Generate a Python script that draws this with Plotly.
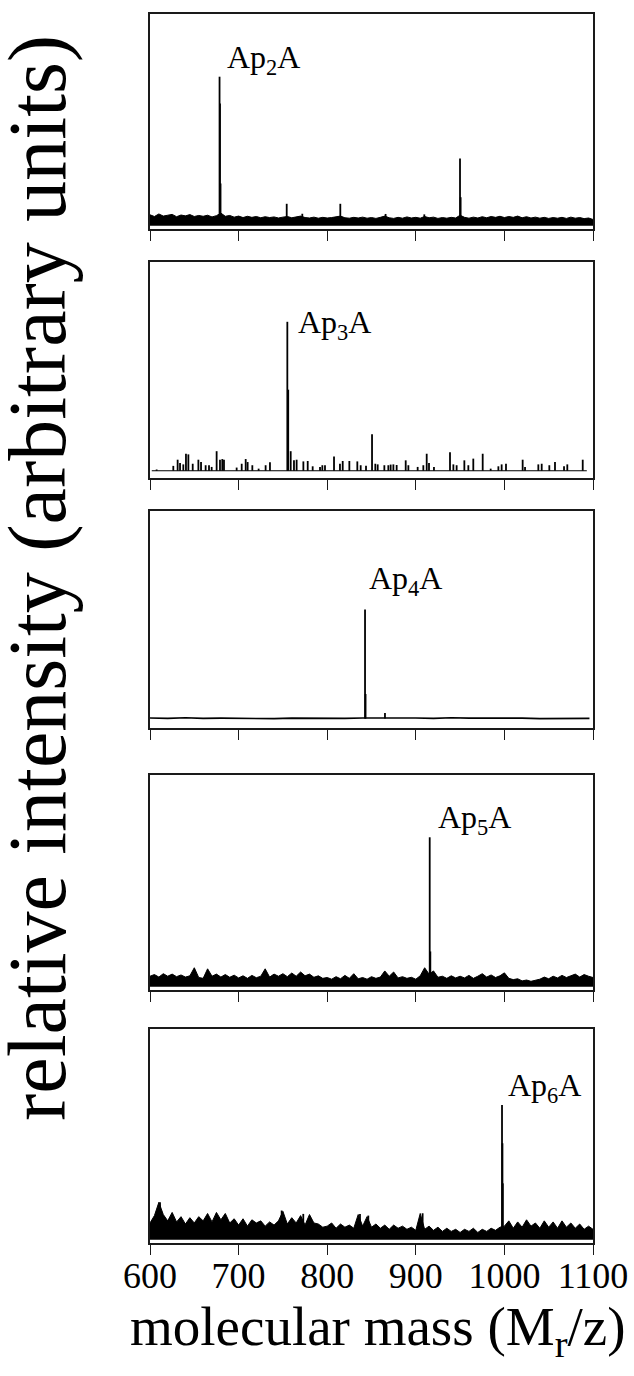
import plotly.graph_objects as go

W, H = 634, 1376
FONT = "Liberation Serif"

# ---- axis ----
mass_range = [600, 1100]
tick_vals = [600, 700, 800, 900, 1000, 1100]
tick_text = ["600", "700", "800", "900", "1000", "1100"]

# ---- noise level (upper edge of the baseline band), every 5 Da from 600 to 1100 ----
noise_mass = list(range(600, 1101, 5))

noise_ap2a = [
    5.2, 4.4, 5.6, 4.6, 5.0, 5.4, 4.3, 5.1, 4.7, 5.3,
    4.4, 4.9, 4.5, 5.0, 4.2, 4.8, 6.0, 4.5, 4.9, 4.1,
    4.6, 3.9, 4.5, 4.0, 4.4, 3.8, 4.3, 3.9, 4.2, 3.7,
    4.1, 4.4, 3.8, 4.2, 4.6, 3.9, 3.7, 4.1, 3.6, 4.0,
    3.7, 3.9, 4.2, 4.6, 3.8, 3.6, 4.0, 3.7, 4.1, 3.6,
    3.9, 3.5, 4.0, 4.6, 3.8, 3.5, 4.0, 3.6, 4.2, 3.7,
    4.0, 3.6, 4.4, 3.8, 4.1, 3.5, 3.9, 3.6, 4.0, 3.7,
    5.0, 4.0, 3.6, 4.1, 3.7, 4.3, 3.8, 4.4, 4.0, 4.5,
    3.9, 4.4, 4.0, 4.6, 3.8, 4.3, 3.7, 4.1, 3.6, 4.0,
    3.5, 3.9, 3.6, 4.0, 3.5, 4.1, 3.6, 3.9, 3.4, 3.7,
    3.0,
]

noise_ap5a = [
    5.0, 5.8, 4.6, 6.2, 5.0, 6.0, 4.8, 5.6, 4.6, 5.2,
    9.0, 4.4, 4.0, 8.5, 5.0, 6.0, 4.6, 5.8, 4.5, 5.5,
    4.2, 5.2, 4.0, 5.4, 4.3, 5.0, 8.5, 4.6, 6.0, 5.0,
    6.2, 4.8, 6.5, 5.0, 7.0, 5.2, 6.0, 4.5, 5.2, 4.0,
    4.4, 3.6, 4.8, 3.8, 5.4, 4.0, 6.2, 3.8, 4.4, 3.6,
    4.8, 4.0, 4.6, 7.5, 5.0, 7.0, 4.2, 4.8, 4.0, 4.5,
    3.6, 5.2, 9.0, 6.0, 7.5, 4.5, 5.0, 4.0, 5.2, 4.2,
    5.0, 4.2, 5.4, 4.0, 5.0, 6.2, 4.6, 5.6, 4.4, 5.2,
    6.6, 4.0, 3.4, 3.8, 2.8, 3.2, 2.6, 3.0, 3.6, 4.6,
    3.8, 5.0, 4.2, 5.4, 4.4, 5.2, 6.0, 4.6, 5.8, 5.0,
    4.4,
]

noise_ap6a = [
    8.0, 11.5, 17.8, 12.0, 9.0, 13.0, 8.5, 11.0, 7.5, 10.5,
    8.0, 11.0, 9.0, 12.5, 8.5, 13.0, 9.5, 12.5, 8.0, 10.0,
    7.0, 10.0, 6.5, 9.5, 8.0, 9.0, 6.5, 8.5, 7.0, 9.0,
    13.5, 7.5, 10.5, 8.0, 11.5, 7.0, 12.0, 8.0, 7.5, 6.0,
    6.5, 8.0, 5.5, 7.5, 6.0, 7.0, 5.5, 12.0, 6.5, 11.0,
    6.0, 7.5, 5.5, 7.0, 5.0, 7.0, 5.5, 6.5, 5.0, 6.0,
    4.5, 12.5, 5.0, 6.5, 4.5, 6.0, 4.0, 5.5, 4.0, 5.0,
    3.5, 5.0, 4.0, 5.5, 3.5, 5.0, 4.0, 5.5, 4.5, 6.0,
    6.5, 9.0, 5.5, 8.5, 6.0, 9.5, 6.5, 8.0, 5.5, 9.0,
    6.0, 8.5, 5.5, 9.0, 6.0, 8.0, 5.5, 7.5, 5.0, 6.5,
    5.0,
]

# Ap3A and Ap4A traces have a thin, nearly flat baseline
baseline_ap3a_mass = [602, 1093]
baseline_ap3a_int = [1.9, 1.9]

baseline_ap4a_mass = [597, 620, 640, 660, 680, 700, 720, 740, 760, 780, 800, 820, 840,
                      860, 880, 900, 920, 940, 960, 980, 1000, 1020, 1040, 1060, 1080, 1096]
baseline_ap4a_int = [3.2, 3.0, 3.3, 3.0, 3.1, 3.0, 3.2, 2.9, 3.1, 3.0, 3.1, 3.0, 3.2,
                     3.3, 3.1, 3.2, 3.0, 3.3, 3.1, 3.2, 3.0, 3.1, 2.9, 3.0, 3.1, 3.0]

# ---- resolved peaks: (mass, intensity) ----
spikes_ap2a_mass = [678.5, 679.0, 679.6, 754.3, 771.9, 814.8, 865.9, 909.6, 949.9, 950.6]
spikes_ap2a_int = [70.4, 57.7, 20.0, 10.4, 5.7, 10.4, 5.6, 5.4, 31.8, 13.5]

spikes_ap3a_mass = [607.5, 626.3, 631.2, 633.9, 637.6, 640.6, 643.3, 648.2, 654.6, 657.6, 662.8,
                    666.6, 669.6, 675.2, 679.0, 681.6, 683.5, 697.8, 703.5, 708.0, 710.2, 715.5,
                    722.6, 730.5, 735.4, 755.0, 756.0, 758.8, 762.5, 765.5, 773.1, 778.0, 783.6,
                    791.9, 794.5, 797.5, 807.7, 814.4, 817.5, 825.0, 834.0, 837.8, 843.8, 850.6,
                    854.3, 857.0, 864.5, 869.0, 871.6, 874.7, 878.4, 888.6, 891.6, 902.1, 908.5,
                    912.3, 914.9, 920.5, 938.6, 942.4, 946.1, 954.8, 959.3, 964.9, 975.5, 984.5,
                    993.2, 996.9, 1001.8, 1020.6, 1023.3, 1038.3, 1042.1, 1050.7, 1057.1, 1067.3,
                    1071.0, 1088.4]
spikes_ap3a_int = [2.5, 4.2, 7.1, 5.6, 4.9, 9.9, 9.6, 5.2, 7.1, 6.0, 4.5,
                   4.5, 3.7, 11.1, 7.1, 7.4, 7.1, 3.4, 5.2, 7.4, 6.0, 4.5,
                   2.9, 4.5, 5.9, 71.9, 40.0, 11.1, 6.8, 7.1, 6.3, 6.5, 4.0,
                   3.7, 4.5, 4.5, 8.6, 5.2, 6.5, 6.5, 6.3, 4.5, 4.3, 19.1,
                   5.2, 4.9, 4.5, 4.5, 4.8, 4.9, 4.6, 6.8, 4.5, 3.7, 4.5,
                   9.9, 5.6, 3.7, 10.6, 4.9, 4.5, 6.8, 4.5, 7.6, 9.9, 2.9,
                   4.0, 4.9, 5.2, 7.1, 3.7, 4.9, 5.2, 4.5, 6.0, 4.0,
                   4.9, 7.1]

spikes_ap4a_mass = [842.7, 843.3, 865.2]
spikes_ap4a_int = [53.9, 14.4, 5.5]

spikes_ap5a_mass = [915.7, 916.4]
spikes_ap5a_int = [70.6, 16.7]

spikes_ap6a_mass = [611.3, 748.6, 773.0, 837.0, 846.4, 907.7, 997.3, 997.8, 998.2]
spikes_ap6a_int = [17.8, 13.9, 12.3, 12.3, 11.5, 12.6, 64.0, 45.8, 26.8]

panels = [
    dict(name="Ap<sub>2</sub>A", band=(noise_mass, noise_ap2a), line=None,
         peaks=(spikes_ap2a_mass, spikes_ap2a_int)),
    dict(name="Ap<sub>3</sub>A", band=None, line=(baseline_ap3a_mass, baseline_ap3a_int),
         peaks=(spikes_ap3a_mass, spikes_ap3a_int)),
    dict(name="Ap<sub>4</sub>A", band=None, line=(baseline_ap4a_mass, baseline_ap4a_int),
         peaks=(spikes_ap4a_mass, spikes_ap4a_int)),
    dict(name="Ap<sub>5</sub>A", band=(noise_mass, noise_ap5a), line=None,
         peaks=(spikes_ap5a_mass, spikes_ap5a_int)),
    dict(name="Ap<sub>6</sub>A", band=(noise_mass, noise_ap6a), line=None,
         peaks=(spikes_ap6a_mass, spikes_ap6a_int)),
]

# frame of each panel in pixels: (top, axis line)
frames_px = [(14, 229), (262, 478), (511, 728), (775, 990), (1029, 1243)]
plot_left, plot_right = 150, 593
# label anchor (left, baseline) in pixels
label_px = [(225, 67), (296, 332), (367, 588), (436, 827), (506, 1095)]


def px_x(x):
    return x / W


def px_y(y):
    return 1 - y / H


fig = go.Figure()
layout = dict(
    width=W, height=H,
    margin=dict(l=0, r=0, t=0, b=0, pad=0, autoexpand=False),
    paper_bgcolor="white", plot_bgcolor="white",
    showlegend=False,
    font=dict(family=FONT, color="black"),
)
annotations = []

for i, p in enumerate(panels):
    n = i + 1
    xa = "x" if n == 1 else f"x{n}"
    ya = "y" if n == 1 else f"y{n}"
    if p["band"] is not None:
        bx, by = p["band"]
        fig.add_trace(go.Scatter(
            x=bx, y=by, xaxis=xa, yaxis=ya, mode="lines",
            line=dict(color="black", width=1.0), fill="tozeroy",
            fillcolor="black", hoverinfo="skip"))
        floor = 1.0
    if p["line"] is not None:
        lx_, ly_ = p["line"]
        fig.add_trace(go.Scatter(
            x=lx_, y=ly_, xaxis=xa, yaxis=ya, mode="lines",
            line=dict(color="black", width=1.6 if i == 2 else 1.0), hoverinfo="skip"))
        floor = min(ly_)
    # peaks drawn as sticks rising from the baseline
    sm, si = p["peaks"]
    xs, ys = [], []
    for m, h in zip(sm, si):
        xs += [m, m, None]
        ys += [floor, h, None]
    fig.add_trace(go.Scatter(
        x=xs, y=ys, xaxis=xa, yaxis=ya, mode="lines",
        line=dict(color="black", width=1.8), hoverinfo="skip"))

    top, bottom = frames_px[i]
    last = n == len(panels)
    layout[f"xaxis{'' if n == 1 else n}"] = dict(
        domain=[px_x(plot_left), px_x(plot_right)],
        anchor=ya, range=mass_range, automargin=False,
        showline=True, linecolor="#1a1a1a", linewidth=1.5, mirror=True,
        ticks="outside", ticklen=10, tickwidth=1.3, tickcolor="#1a1a1a",
        tickvals=tick_vals, ticktext=tick_text, ticklabelstandoff=-10,
        showticklabels=last, tickfont=dict(family=FONT, size=36, color="black"),
        showgrid=False, zeroline=False,
    )
    layout[f"yaxis{'' if n == 1 else n}"] = dict(
        domain=[px_y(bottom), px_y(top)],
        anchor=xa, range=[-1.5, 100], automargin=False,
        showline=True, linecolor="#1a1a1a", linewidth=1.5, mirror=True,
        ticks="", showticklabels=False, showgrid=False, zeroline=False,
    )
    lx, ly = label_px[i]
    annotations.append(dict(
        text=p["name"], xref="paper", yref="paper",
        x=px_x(lx), y=px_y(ly + 15), xanchor="left", yanchor="bottom",
        showarrow=False, font=dict(family=FONT, size=32, color="black")))

annotations.append(dict(
    text="relative intensity (arbitrary units)", xref="paper", yref="paper",
    x=px_x(37), y=px_y(578), xanchor="center", yanchor="middle", textangle=-90,
    showarrow=False, font=dict(family=FONT, size=82, color="black")))
annotations.append(dict(
    text="molecular mass (M<sub>r</sub>/z)", xref="paper", yref="paper",
    x=px_x(377), y=px_y(1330), xanchor="center", yanchor="middle",
    showarrow=False, font=dict(family=FONT, size=55, color="black")))

layout["annotations"] = annotations
fig.update_layout(**layout)
fig.write_html("out.html")
